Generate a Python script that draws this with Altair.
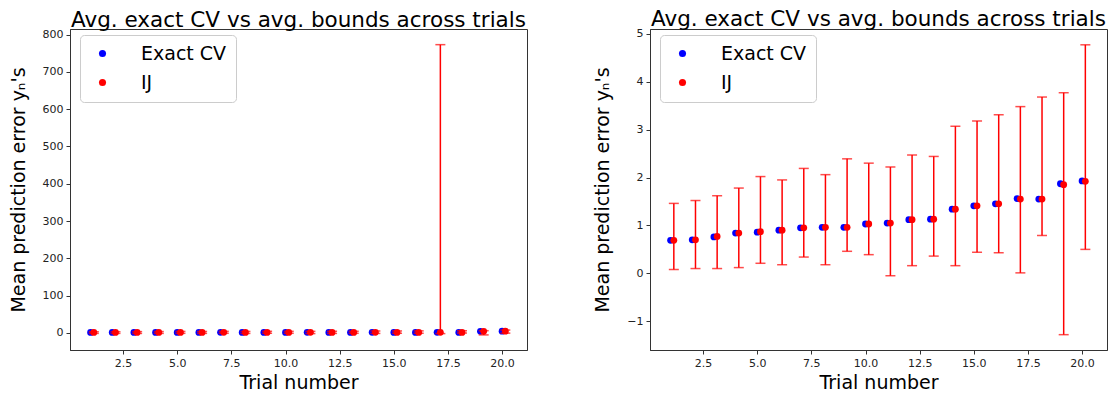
import altair as alt
import pandas as pd

trials = list(range(1, 21))
ij_shift = 0.15

# Left panel (full scale, one huge IJ bound at trial 17)
left_exact = [1.0, 1.1, 1.2, 1.2, 1.1, 1.2, 1.3, 1.2, 1.1, 1.2, 1.3, 1.2, 1.1, 1.3, 1.2, 1.1, 1.3, 1.2, 4.2, 4.6]
left_ij = [1.0, 1.1, 1.2, 1.2, 1.1, 1.2, 1.3, 1.2, 1.1, 1.2, 1.3, 1.2, 1.1, 1.3, 1.2, 1.1, 1.3, 1.2, 4.1, 4.5]
left_lo = [-1.5, -1.4, -1.6, -1.5, -1.3, -1.4, -1.2, -1.5, -1.1, -1.2, -2.0, -1.5, -1.2, -1.5, -1.1, -1.1, -2.0, -0.5, -5.5, -0.8]
left_hi = [3.0, 3.1, 3.3, 3.5, 3.8, 3.7, 4.0, 3.8, 4.2, 4.1, 4.0, 4.3, 4.2, 5.0, 5.1, 5.3, 773.0, 5.6, 5.8, 7.5]

# Right panel (zoomed-in view)
right_exact = [0.69, 0.70, 0.76, 0.84, 0.86, 0.90, 0.95, 0.96, 0.96, 1.03, 1.05, 1.12, 1.13, 1.34, 1.41, 1.45, 1.56, 1.55, 1.87, 1.93]
right_ij = [0.69, 0.70, 0.77, 0.84, 0.87, 0.90, 0.95, 0.96, 0.96, 1.03, 1.05, 1.12, 1.13, 1.34, 1.41, 1.45, 1.55, 1.55, 1.85, 1.92]
right_lo = [0.08, 0.10, 0.10, 0.12, 0.21, 0.18, 0.34, 0.18, 0.46, 0.39, -0.05, 0.16, 0.36, 0.16, 0.44, 0.43, 0.01, 0.79, -1.28, 0.50]
right_hi = [1.46, 1.52, 1.62, 1.78, 2.02, 1.95, 2.19, 2.06, 2.39, 2.30, 2.22, 2.47, 2.44, 3.07, 3.18, 3.31, 3.48, 3.68, 3.77, 4.77]

x_ticks = [2.5, 5.0, 7.5, 10.0, 12.5, 15.0, 17.5, 20.0]
left_y_ticks = [0, 100, 200, 300, 400, 500, 600, 700, 800]
right_y_ticks = [-1, 0, 1, 2, 3, 4, 5]
series = ["Exact CV", "IJ"]
colors = ["#0000ff", "#ff0000"]

FONT = "DejaVu Sans"
W, H = 457, 321


def panel(exact, ij, lo, hi, ydomain, yticks):
    pts = pd.DataFrame(
        {"x": trials + [t + ij_shift for t in trials],
         "y": exact + ij,
         "s": ["Exact CV"] * 20 + ["IJ"] * 20}
    )
    err = pd.DataFrame({"x": [t + ij_shift for t in trials], "lo": lo, "hi": hi})

    xs = alt.Scale(domain=[0.05, 21.15], nice=False, zero=False)
    ys = alt.Scale(domain=ydomain, nice=False, zero=False)
    xax = alt.Axis(values=x_ticks, format=".1f", title="Trial number", grid=False,
                   titlePadding=5, labelOverlap=False)
    yax = alt.Axis(values=yticks, format="d", title="Mean prediction error yₙ's",
                   grid=False, titlePadding=14, labelOverlap=False)

    base_pts = alt.Chart(pts)
    exact_layer = base_pts.transform_filter(alt.datum.s == "Exact CV").mark_circle(
        size=46, opacity=1
    ).encode(
        x=alt.X("x:Q", scale=xs, axis=xax),
        y=alt.Y("y:Q", scale=ys, axis=yax),
        color=alt.Color(
            "s:N",
            scale=alt.Scale(domain=series, range=colors),
            legend=alt.Legend(title=None, orient="none", legendX=10, legendY=6),
        ),
    )
    rule = alt.Chart(err).mark_rule(color="#ff0000", strokeWidth=1.5).encode(
        x="x:Q", y="lo:Q", y2="hi:Q"
    )
    cap_lo = alt.Chart(err).mark_tick(
        color="#ff0000", orient="horizontal", size=10, thickness=1.5
    ).encode(x="x:Q", y="lo:Q")
    cap_hi = alt.Chart(err).mark_tick(
        color="#ff0000", orient="horizontal", size=10, thickness=1.5
    ).encode(x="x:Q", y="hi:Q")
    ij_layer = base_pts.transform_filter(alt.datum.s == "IJ").mark_circle(
        size=46, opacity=1
    ).encode(
        x="x:Q",
        y="y:Q",
        color=alt.Color("s:N", scale=alt.Scale(domain=series, range=colors)),
    )
    return alt.layer(exact_layer, rule, cap_lo, cap_hi, ij_layer).properties(
        width=W,
        height=H,
        title=alt.TitleParams(
            "Avg. exact CV vs avg. bounds across trials",
            fontSize=21.5, font=FONT, fontWeight="normal", color="#000",
            offset=-3,
        ),
    )


left = panel(left_exact, left_ij, left_lo, left_hi, [-46, 815], left_y_ticks)
right = panel(right_exact, right_ij, right_lo, right_hi, [-1.6, 5.1], right_y_ticks)

chart = alt.hconcat(left, right, spacing=65).resolve_scale(
    color="independent"
).resolve_legend(color="independent").properties(
    background="white",
    padding=0,
).configure_view(
    stroke="#333", strokeWidth=1
).configure_axis(
    labelFont=FONT, titleFont=FONT, labelFontSize=11, titleFontSize=19,
    titleFontWeight="normal", labelColor="#222", titleColor="#000",
    domainColor="#333", tickColor="#333", tickSize=4, labelPadding=3,
).configure_legend(
    fillColor="white", strokeColor="#cccccc",
    cornerRadius=4, padding=9, labelFont=FONT, labelFontSize=19, labelColor="#000",
    symbolSize=50, symbolOffset=4, labelOffset=29, rowPadding=9, symbolType="circle",
)

chart.save("out.html", embed_options={"renderer": "svg", "actions": False})
